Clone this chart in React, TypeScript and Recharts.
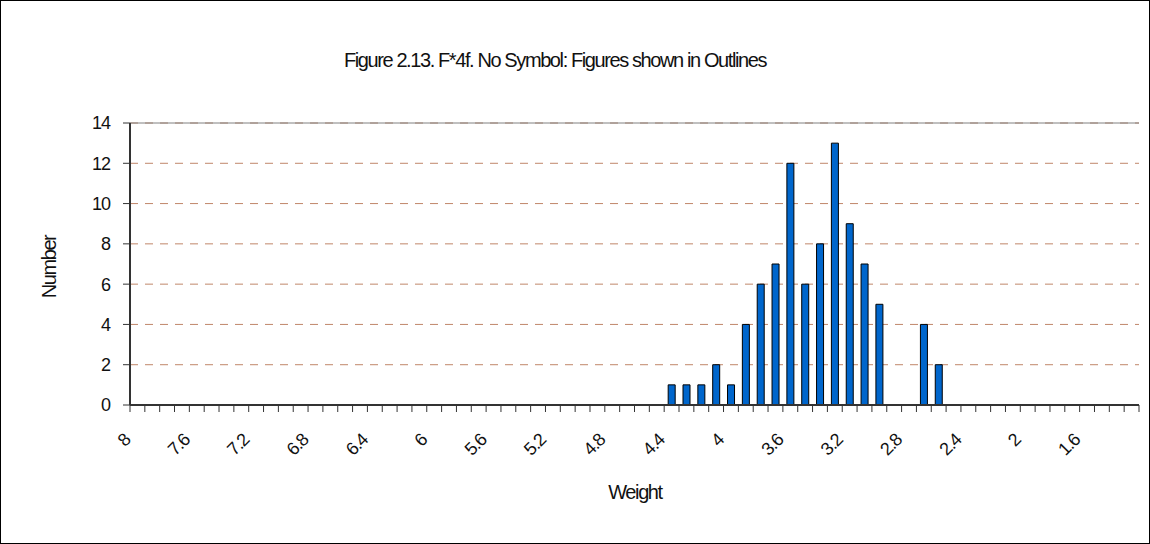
import React from "react"
import {
  BarChart,
  Bar,
  XAxis,
  YAxis,
  CartesianGrid,
  ReferenceLine,
} from "recharts"

const weights = [
  8, 7.9, 7.8, 7.7, 7.6, 7.5, 7.4, 7.3, 7.2, 7.1, 7, 6.9, 6.8, 6.7, 6.6, 6.5, 6.4,
  6.3, 6.2, 6.1, 6, 5.9, 5.8, 5.7, 5.6, 5.5, 5.4, 5.3, 5.2, 5.1, 5, 4.9, 4.8, 4.7,
  4.6, 4.5, 4.4, 4.3, 4.2, 4.1, 4, 3.9, 3.8, 3.7, 3.6, 3.5, 3.4, 3.3, 3.2, 3.1, 3,
  2.9, 2.8, 2.7, 2.6, 2.5, 2.4, 2.3, 2.2, 2.1, 2, 1.9, 1.8, 1.7, 1.6, 1.5, 1.4, 1.3,
]

const counts = [
  0, 0, 0, 0, 0, 0, 0, 0, 0, 0, 0, 0, 0, 0, 0, 0, 0,
  0, 0, 0, 0, 0, 0, 0, 0, 0, 0, 0, 0, 0, 0, 0, 0, 0,
  0, 0, 1, 1, 1, 2, 1, 4, 6, 7, 12, 6, 8, 13, 9, 7, 5,
  0, 0, 4, 2, 0, 0, 0, 0, 0, 0, 0, 0, 0, 0, 0, 0, 0,
]

const xTickLabels = [8, 7.6, 7.2, 6.8, 6.4, 6, 5.6, 5.2, 4.8, 4.4, 4, 3.6, 3.2, 2.8, 2.4, 2, 1.6]
const yTicks = [0, 2, 4, 6, 8, 10, 12, 14]

const title = "Figure 2.13. F*4f. No Symbol: Figures shown in Outlines"

const W = 1150
const H = 544
const MARGIN = { top: 123, right: 11, bottom: 59, left: 60 }
const Y_AXIS_W = 70
const X_AXIS_H = 80
const PLOT_W = W - MARGIN.left - Y_AXIS_W - MARGIN.right
const BAND = PLOT_W / weights.length

const FONT = "'Liberation Sans', Arial, sans-serif"

const data = weights.map((w, i) => ({ weight: w, count: counts[i] }))

const titleStyle: React.CSSProperties = {
  position: "absolute",
  whiteSpace: "nowrap",
  fontFamily: FONT,
  fontSize: 20,
  letterSpacing: -1.4,
  color: "#111",
}

// ticks at category boundaries (Excel style), label only every 4th
const WeightTick = (props: any) => {
  const { x, y, payload, index } = props
  const half = BAND / 2
  const last = index === weights.length - 1
  const show = xTickLabels.includes(payload.value)
  const ax = x - 6
  const ay = y + 36
  return (
    <g>
      <line x1={x - half} x2={x - half} y1={y} y2={y + 7} stroke="#333" />
      {last && <line x1={x + half} x2={x + half} y1={y} y2={y + 7} stroke="#333" />}
      {show && (
        <text
          x={ax}
          y={ay}
          textAnchor="end"
          transform={`rotate(-45 ${ax} ${ay})`}
          fontSize={18}
          fontFamily={FONT}
          letterSpacing={-1}
          fill="#111"
        >
          {payload.value}
        </text>
      )}
    </g>
  )
}

export default function App() {
  return (
    <div style={{ position: "absolute", left: 0, top: 0, width: W, height: H, background: "#fff" }}>
      <BarChart width={W} height={H} data={data} margin={MARGIN} barCategoryGap={0}>
        <CartesianGrid vertical={false} stroke="#c0876a" strokeDasharray="8 7" />
        <XAxis
          dataKey="weight"
          interval={0}
          height={X_AXIS_H}
          tickLine={false}
          tickSize={0}
          tickMargin={0}
          axisLine={{ stroke: "#333", strokeWidth: 2 }}
          tick={<WeightTick />}
        />
        <YAxis
          width={Y_AXIS_W}
          domain={[0, 14]}
          ticks={yTicks}
          interval={0}
          tickSize={7}
          tickMargin={13}
          axisLine={{ stroke: "#333", strokeWidth: 2 }}
          tickLine={{ stroke: "#333" }}
          tick={{ fontSize: 18, fontFamily: FONT, fill: "#111", letterSpacing: -1 }}
        />
        <YAxis
          yAxisId="right"
          orientation="right"
          width={0}
          domain={[0, 14]}
          tick={false}
          tickLine={false}
          axisLine={{ stroke: "#808080" }}
        />
        <ReferenceLine y={14} stroke="#808080" />
        <Bar
          dataKey="count"
          barSize={7}
          fill="#0066CC"
          stroke="#000"
          strokeWidth={1}
          isAnimationActive={false}
        />
      </BarChart>
      <div style={{ ...titleStyle, left: 555, top: 49, transform: "translateX(-50%)" }}>
        {title}
      </div>
      <div
        style={{
          ...titleStyle,
          left: 49,
          top: 267,
          transform: "translate(-50%, -50%) rotate(-90deg)",
        }}
      >
        Number
      </div>
      <div style={{ ...titleStyle, left: 635, top: 492, transform: "translate(-50%, -50%)" }}>
        Weight
      </div>
      <div
        style={{
          position: "absolute",
          inset: 0,
          border: "1px solid #000",
          pointerEvents: "none",
        }}
      />
    </div>
  )
}
